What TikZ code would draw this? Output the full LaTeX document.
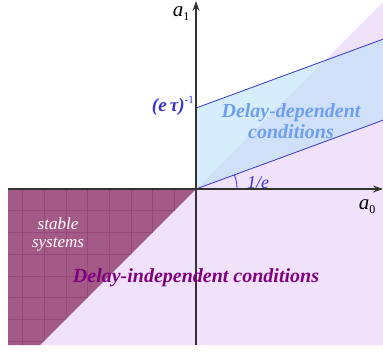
\documentclass[tikz,border=0pt]{standalone}
\usepackage{fontspec}
\setmainfont{Liberation Serif}
\usetikzlibrary{arrows.meta}
\definecolor{pinkbg}{HTML}{F0E2FA}
\definecolor{stablecol}{HTML}{A45A86}
\definecolor{gridcol}{HTML}{95497A}
\definecolor{bandcol}{HTML}{D6EEFC}
\definecolor{overlapcol}{HTML}{D0E0F8}
\definecolor{linecol}{HTML}{3535CC}
\definecolor{depcol}{HTML}{6E9FEE}
\definecolor{indepcol}{HTML}{800080}
\definecolor{axiscol}{HTML}{333333}
\begin{document}
\begin{tikzpicture}[x=1pt,y=-1pt,
  axisline/.style={axiscol, line width=1.5pt, -{Stealth[length=10pt,width=7pt]}},
  bandline/.style={linecol, line width=0.8pt},
  gridline/.style={gridcol, line width=0.5pt},
  biglabel/.style={font=\fontsize{20}{21}\selectfont\bfseries\itshape, align=center, inner sep=0pt},
  axislabel/.style={font=\fontsize{21}{21}\selectfont, inner sep=0pt}]
\useasboundingbox (0,0) rectangle (383,354);
\coordinate (O) at (196,189);
\coordinate (T) at (196,108);
\coordinate (L) at (383,120.2);
\coordinate (U) at (383,39.2);
\coordinate (X) at (324.2,60.8);
\coordinate (D) at (383,2);
\coordinate (xl) at (8,189);
\coordinate (xr) at (383,189);
\coordinate (yb) at (196,345);
\coordinate (yt) at (196,1);
\coordinate (bl) at (8,345);
\coordinate (br) at (383,345);
\coordinate (sb) at (40,345);
% regions
\fill[pinkbg] (xl) -- (O) -- (D) -- (br) -- (bl) -- cycle;
\fill[stablecol] (xl) -- (O) -- (sb) -- (bl) -- cycle;
\begin{scope}
  \clip (xl) -- (O) -- (sb) -- (bl) -- cycle;
  \foreach \i in {1,...,9} \draw[gridline] (196-\i*21.7,189) -- ++(0,160);
  \foreach \i in {1,...,8} \draw[gridline] (0,189+\i*21.7) -- ++(200,0);
\end{scope}
\fill[bandcol] (O) -- (X) -- (T) -- cycle;
\fill[overlapcol] (O) -- (L) -- (U) -- (X) -- cycle;
\draw[bandline] (O) -- (L);
\draw[bandline] (T) -- (U);
\draw[bandline] (237,189) arc[start angle=0, end angle=-20.2, radius=41];
% axes
\draw[axisline] (xl) -- (xr);
\draw[axisline] (yb) -- (yt);
% labels
\node[axislabel] (a1) at (181,14) {\textit{a}\raisebox{-4pt}{\fontsize{12}{12}\selectfont 1}};
\node[axislabel] (a0) at (367,207) {\textit{a}\raisebox{-4pt}{\fontsize{12}{12}\selectfont 0}};
\node[anchor=east, inner sep=0pt, text=linecol, font=\fontsize{19}{19}\selectfont\bfseries\itshape] (et) at (194,106) {(e\,τ)\raisebox{8pt}{\fontsize{11}{11}\selectfont\mdseries\upshape -1}};
\node[inner sep=0pt, text=linecol, font=\fontsize{18}{18}\selectfont\itshape] (inv) at (258,183) {1/e};
\node[biglabel, text=depcol] (dep) at (291,121) {Delay-dependent\\conditions};
\node[inner sep=0pt, align=center, text=white, font=\fontsize{17}{18}\selectfont\itshape] (st) at (58,234) {stable\\systems};
\node[biglabel, text=indepcol] (indep) at (196,278) {Delay-independent conditions};
\end{tikzpicture}
\end{document}
